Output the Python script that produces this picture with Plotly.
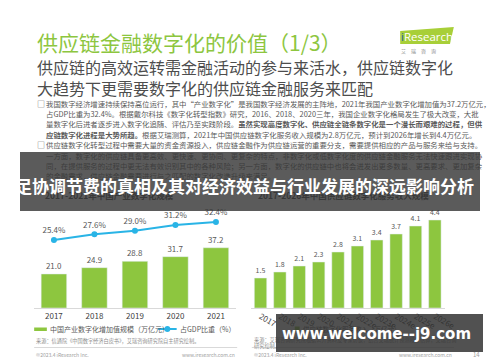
import plotly.graph_objects as go

# ---------------- data ----------------
years_left = ["2017", "2018", "2019", "2020", "2021"]
digital_value = [21.0, 24.9, 28.8, 31.7, 37.2]          # 万亿元
gdp_share = [25.4, 27.6, 29.0, 31.2, 32.4]              # %
years_right = ["2017", "2018", "2019", "2020", "2021",
               "2022e", "2023e", "2024e", "2025e", "2026e"]
scm_revenue = [1.5, 1.8, 2.1, 2.3, 2.8, 3.1, 3.4, 3.7, 4.1, 4.4]  # 万亿元

title_text = "供应链金融数字化的价值（1/3）"
subtitle_lines = ["供应链的高效运转需金融活动的参与来活水，供应链数字化",
                  "大趋势下更需要数字化的供应链金融服务来匹配"]
body_lines = [
    ("□", "我国数字经济增速持续保持高位运行，其中“产业数字化”是我国数字经济发展的主阵地，2021年我国产业数字化增加值为37.2万亿元，"),
    ("", "占GDP比重为32.4%。根据戴尔科技《数字化转型指数》研究，2016、2018、2020三年，我国企业数字化格局发生了极大改变，大批"),
    ("", "量数字化后进者逐步进入数字化追随、评估乃至实践阶段。<b>虽然实现高度数字化、供应链全链条数字化是一个漫长而艰难的过程，但供</b>"),
    ("", "<b>应链数字化进程是大势所趋。</b>根据艾瑞测算，2021年中国供应链数字化服务收入规模为2.8万亿元，预计到2026年增长到4.4万亿元。"),
    ("□", "供应链数字化转型过程中需要大量的资金资源投入，供应链金融作为供应链运营的重要分支，需要提供相应的产品与服务来给与支持。"),
    ("", "一方面，数字化的供应链具备更高效、更快速、更协同、更复杂的特点，非数字化或低数字化度的供应链金融服务无法快速跟进实现协"),
    ("", "同，在提供服务的过程中更无法有效识别其中的各种风险；另一方面，数字化的供应链中也将会迸发出更多数量、更高要求、更加复杂"),
    ("", "的金融需求，供应链金融需要进行与之匹配的数字化改造升级来满足。"),
]
left_title = "2017-2021年中国产业数字化规模"
right_title = "2017-2026年中国供应链数字化服务收入规模"
left_legend_bar = "中国产业数字化增加值规模（万亿元）"
left_legend_line = "占GDP比重（%）"
right_legend_bar = "供应链数字化服务收入（万亿元）"
banner_text = "足协调节费的真相及其对经济效益与行业发展的深远影响分析"
watermark_text = "www.welcome--j9.com"

# ---------------- helpers ----------------
W, H = 500, 362
def px(x): return x / W
def py(y): return (H - y) / H

GREEN = "#8dc63f"
BLUE = "#29b4e6"
CJK = "Noto Sans CJK SC, Noto Sans, sans-serif"

annotations = []
def ann(x, y, text, size, color="#595959", xanchor="left", bold=False, family=CJK, **kw):
    if bold:
        text = "<b>" + text + "</b>"
    annotations.append(dict(x=px(x), y=py(y), xref="paper", yref="paper", text=text,
                            showarrow=False, xanchor=xanchor, yanchor="middle",
                            font=dict(size=size, color=color, family=family), **kw))

fig = go.Figure()

# left chart
fig.add_trace(go.Bar(x=years_left, y=digital_value, marker_color=GREEN, width=0.63,
                     text=[f"{v:.1f}" for v in digital_value], textposition="outside",
                     textfont=dict(size=8, color="#595959", family=CJK), cliponaxis=False,
                     xaxis="x", yaxis="y", showlegend=False))
fig.add_trace(go.Scatter(x=years_left, y=gdp_share, mode="lines+markers+text",
                         line=dict(color=BLUE, width=2), marker=dict(size=6, color=BLUE),
                         text=[f"{v:.1f}%" for v in gdp_share], textposition="top center",
                         textfont=dict(size=8, color="#595959", family=CJK), cliponaxis=False,
                         xaxis="x", yaxis="y2", showlegend=False))
# right chart
fig.add_trace(go.Bar(x=years_right, y=scm_revenue, marker_color=GREEN, width=0.64,
                     text=[f"{v:.1f}" for v in scm_revenue], textposition="outside",
                     textfont=dict(size=7, color="#595959", family=CJK), cliponaxis=False,
                     xaxis="x2", yaxis="y3", showlegend=False))

ydom = [py(308), py(200)]
axis_common = dict(type="category", showline=True, linecolor="#d9d9d9", linewidth=1,
                   ticks="", showgrid=False, zeroline=False, fixedrange=True,
                   tickfont=dict(size=8, color="#404040", family=CJK))
fig.update_layout(
    width=W, height=H, autosize=False,
    margin=dict(l=0, r=0, t=0, b=0),
    paper_bgcolor="white", plot_bgcolor="rgba(0,0,0,0)",
    xaxis=dict(domain=[px(34.5), px(242)], range=[-0.5, 4.5], anchor="y", **axis_common),
    yaxis=dict(domain=ydom, range=[0, 108 / 1.62], visible=False, autorange=False),
    yaxis2=dict(domain=ydom, range=[-1.06, 40.96], overlaying="y", anchor="x",
                visible=False, autorange=False),
    xaxis2=dict(domain=[px(257), px(455.5)], range=[-0.5, 9.5], anchor="y3", **axis_common),
    yaxis3=dict(domain=ydom, range=[0, 5.4], anchor="x2", visible=False, autorange=False),
    bargap=0.37,
)

shapes = []
# logo parallelogram
shapes.append(dict(type="path", xref="paper", yref="paper",
                   path=f"M {px(410)},{py(31)} L {px(465)},{py(27)} L {px(461)},{py(44)} L {px(410)},{py(44)} Z",
                   fillcolor="#a8cf38", line=dict(width=0)))
# legend symbols
shapes.append(dict(type="rect", xref="paper", yref="paper", x0=px(35), x1=px(48),
                   y0=py(331), y1=py(327.5), fillcolor=GREEN, line=dict(width=0)))
shapes.append(dict(type="line", xref="paper", yref="paper", x0=px(162), x1=px(181),
                   y0=py(329), y1=py(329), line=dict(color=BLUE, width=2)))
shapes.append(dict(type="circle", xref="paper", yref="paper", x0=px(168.5), x1=px(174.5),
                   y0=py(332), y1=py(326), fillcolor=BLUE, line=dict(width=0)))
shapes.append(dict(type="rect", xref="paper", yref="paper", x0=px(302), x1=px(307),
                   y0=py(331.5), y1=py(326.5), fillcolor=GREEN, line=dict(width=0)))
# source separators
shapes.append(dict(type="line", xref="paper", yref="paper", x0=px(35), x1=px(243),
                   y0=py(347.5), y1=py(347.5), line=dict(color="#d9d9d9", width=1)))
shapes.append(dict(type="line", xref="paper", yref="paper", x0=px(258), x1=px(465),
                   y0=py(347.5), y1=py(347.5), line=dict(color="#d9d9d9", width=1)))

# ---------------- texts ----------------
ann(36, 42, title_text, 21, color="#8dc63f")
ann(36, 67, subtitle_lines[0], 16, color="#4d4d4d")
ann(36, 88, subtitle_lines[1], 16, color="#4d4d4d")
ann(437, 36.5, "<span style='color:#1b5fa6'>i</span>Research", 11.5, color="white",
    xanchor="center", family="Open Sans, sans-serif")
ann(429, 51, "艾　瑞　咨　询", 5, color="#888888", xanchor="center")

y0 = 103
for i, (bullet, line) in enumerate(body_lines):
    yy = y0 + i * 10.4
    if bullet:
        ann(36, yy, bullet, 8, color="#595959")
    ann(45, yy, line, 7.4, color="#595959")

ann(112, 195, left_title, 8.5, color="#404040", xanchor="center", bold=True)
ann(352, 195, right_title, 8.5, color="#404040", xanchor="center", bold=True)

# legends
ann(49, 329, left_legend_bar, 7, color="#595959")
ann(182, 329, left_legend_line, 7, color="#595959")
ann(308, 329, right_legend_bar, 6.5, color="#595959")

# sources / footer
ann(35, 341, "来源：信通院《中国数字经济白皮书》，艾瑞咨询研究院自主研究绘制。", 5.2, color="#8c8c8c")
ann(258, 339.5, "来源：艾瑞咨询研究院根据公开资料及专家访谈，结合艾瑞统计预测模型估算，艾瑞咨询", 5.2, color="#8c8c8c")
ann(258, 345.5, "研究绘制。", 5.2, color="#8c8c8c")
ann(35, 354, "©2023.4 iResearch Inc.", 5, color="#a0a0a0")
ann(243, 354, "www.iresearch.com.cn", 5, color="#a0a0a0", xanchor="right")
ann(258, 354, "©2023.4 iResearch Inc.", 5, color="#a0a0a0")
ann(465, 354, "www.iresearch.com.cn", 5, color="#a0a0a0", xanchor="right")
ann(483, 354, "14", 6, color="#a0a0a0")

# banner overlay box (drawn after the texts it covers)
annotations.append(dict(x=px(20), y=py(152), xref="paper", yref="paper", text=" ",
                        showarrow=False, xanchor="left", yanchor="top",
                        width=460, height=59, bgcolor="rgba(55,55,55,0.82)",
                        borderpad=0, borderwidth=0, font=dict(size=4)))
ann(251, 185, banner_text, 17, color="white", xanchor="center", bold=True)

# watermark box
annotations.append(dict(x=px(283), y=py(314), xref="paper", yref="paper", text=" ",
                        showarrow=False, xanchor="left", yanchor="top",
                        width=207, height=38, bgcolor="rgba(50,50,50,0.85)",
                        borderpad=0, borderwidth=0, font=dict(size=4)))
ann(386, 334, watermark_text, 15, color="white", xanchor="center", bold=True,
    family="DejaVu Sans, sans-serif")

fig.update_layout(annotations=annotations, shapes=shapes)
fig.write_html("out.html", config={"displayModeBar": False},
               post_script="document.body.style.margin='0';document.body.style.overflow='hidden';")
